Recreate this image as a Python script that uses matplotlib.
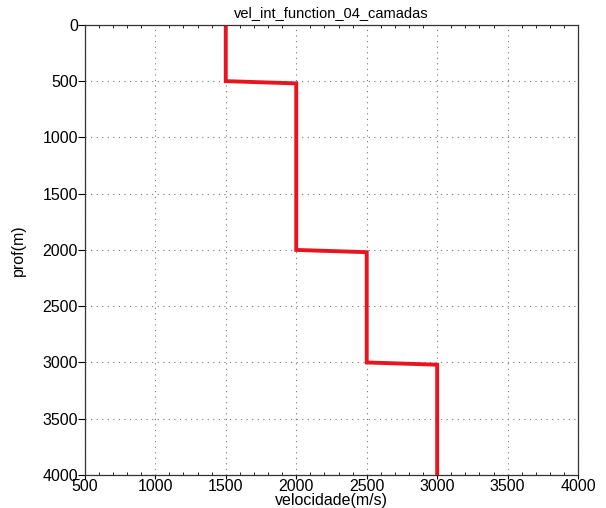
import matplotlib
matplotlib.use("Agg")
import matplotlib.pyplot as plt
from matplotlib.ticker import MultipleLocator

plt.rcParams['font.family'] = ['Liberation Sans', 'DejaVu Sans']

# Interval velocity profile, 4 layers (velocity in m/s, depth in m)
velocity = [1500, 1500, 2000, 2000, 2500, 2500, 3000, 3000]
depth = [0, 500, 520, 2000, 2020, 3000, 3020, 4000]

fig = plt.figure(figsize=(6.06, 5.08), dpi=100)
ax = fig.add_axes([0.140, 0.065, 0.814, 0.886])

ax.plot(velocity, depth, color='#e8141e', linewidth=2.8, solid_joinstyle='miter')

ax.set_xlim(500, 4000)
ax.set_ylim(4000, 0)
ax.xaxis.set_major_locator(MultipleLocator(500))
ax.yaxis.set_major_locator(MultipleLocator(500))
ax.xaxis.set_minor_locator(MultipleLocator(100))

ax.grid(True, which='major', linestyle=(0, (1, 4)), color='#777777', linewidth=0.8)

ax.tick_params(which='major', direction='out', length=5, width=0.8, labelsize=11.5, pad=0)
ax.tick_params(axis='x', which='major', length=3)
ax.tick_params(axis='x', which='minor', direction='in', length=2, width=0.6, top=True)
for s in ax.spines.values():
    s.set_linewidth(0.9)
    s.set_color('#333333')

ax.set_title('vel_int_function_04_camadas', fontsize=10.5, pad=6)
ax.set_xlabel('velocidade(m/s)', fontsize=11.5, labelpad=-1)
ax.set_ylabel('prof(m)', fontsize=11.5, labelpad=12)

fig.savefig('out.png', dpi=100)
